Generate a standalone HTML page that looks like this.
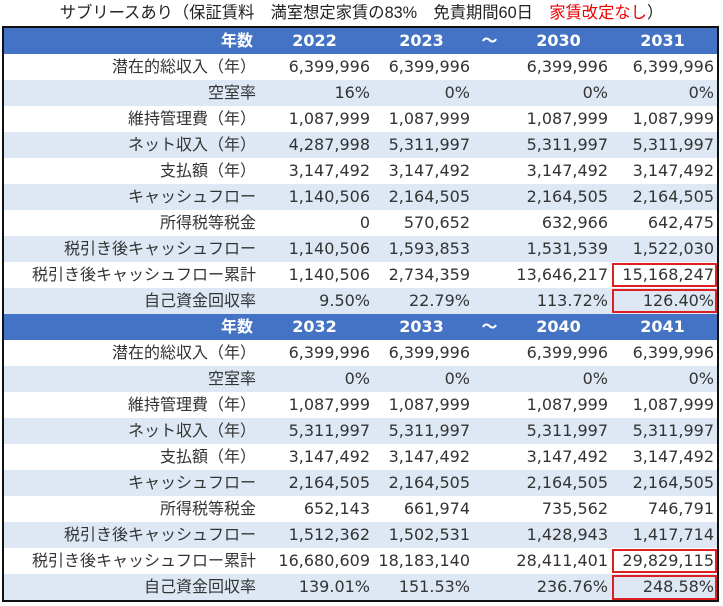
<!DOCTYPE html><html><head><meta charset="utf-8"><style>
body{margin:0;width:723px;height:606px;background:#fff;font-family:"DejaVu Sans","Noto Sans CJK JP",sans-serif;position:relative;overflow:hidden}
.t{position:absolute;top:2px;left:0;width:723px;text-align:center;font-size:16.3px;color:#222;line-height:22px;font-family:"Liberation Sans","Noto Sans CJK JP",sans-serif}
table{position:absolute;left:2px;top:26px;border-collapse:collapse;border:2px solid #111;width:715px;table-layout:fixed}
td{height:26px;padding:0 3px 0 0;font-size:16px;color:#333;text-align:right;white-space:nowrap;box-sizing:border-box;line-height:26px;overflow:visible}
tr.h td{background:#4472c4;color:#fff;font-weight:bold;text-align:center}
tr.h td:first-child{text-align:right;padding-right:6px}
tr.a td{background:#dde8f4}
td.r{outline:2px solid #e02020;outline-offset:-3px}
</style></head><body>
<div class="t">サブリースあり（保証賃料　満室想定家賃の83%　免責期間60日　<span style="color:#e00">家賃改定なし</span>）</div>
<table>
<colgroup><col style="width:256px"><col style="width:114px"><col style="width:100px"><col style="width:36px"><col style="width:102px"><col style="width:107px"></colgroup>
<tr class="h"><td>年数</td><td>2022</td><td>2023</td><td>～</td><td>2030</td><td>2031</td></tr>
<tr><td>潜在的総収入（年）</td><td>6,399,996</td><td>6,399,996</td><td></td><td>6,399,996</td><td>6,399,996</td></tr>
<tr class="a"><td>空室率</td><td>16%</td><td>0%</td><td></td><td>0%</td><td>0%</td></tr>
<tr><td>維持管理費（年）</td><td>1,087,999</td><td>1,087,999</td><td></td><td>1,087,999</td><td>1,087,999</td></tr>
<tr class="a"><td>ネット収入（年）</td><td>4,287,998</td><td>5,311,997</td><td></td><td>5,311,997</td><td>5,311,997</td></tr>
<tr><td>支払額（年）</td><td>3,147,492</td><td>3,147,492</td><td></td><td>3,147,492</td><td>3,147,492</td></tr>
<tr class="a"><td>キャッシュフロー</td><td>1,140,506</td><td>2,164,505</td><td></td><td>2,164,505</td><td>2,164,505</td></tr>
<tr><td>所得税等税金</td><td>0</td><td>570,652</td><td></td><td>632,966</td><td>642,475</td></tr>
<tr class="a"><td>税引き後キャッシュフロー</td><td>1,140,506</td><td>1,593,853</td><td></td><td>1,531,539</td><td>1,522,030</td></tr>
<tr><td>税引き後キャッシュフロー累計</td><td>1,140,506</td><td>2,734,359</td><td></td><td>13,646,217</td><td class="r">15,168,247</td></tr>
<tr class="a"><td>自己資金回収率</td><td>9.50%</td><td>22.79%</td><td></td><td>113.72%</td><td class="r">126.40%</td></tr>
<tr class="h"><td>年数</td><td>2032</td><td>2033</td><td>～</td><td>2040</td><td>2041</td></tr>
<tr><td>潜在的総収入（年）</td><td>6,399,996</td><td>6,399,996</td><td></td><td>6,399,996</td><td>6,399,996</td></tr>
<tr class="a"><td>空室率</td><td>0%</td><td>0%</td><td></td><td>0%</td><td>0%</td></tr>
<tr><td>維持管理費（年）</td><td>1,087,999</td><td>1,087,999</td><td></td><td>1,087,999</td><td>1,087,999</td></tr>
<tr class="a"><td>ネット収入（年）</td><td>5,311,997</td><td>5,311,997</td><td></td><td>5,311,997</td><td>5,311,997</td></tr>
<tr><td>支払額（年）</td><td>3,147,492</td><td>3,147,492</td><td></td><td>3,147,492</td><td>3,147,492</td></tr>
<tr class="a"><td>キャッシュフロー</td><td>2,164,505</td><td>2,164,505</td><td></td><td>2,164,505</td><td>2,164,505</td></tr>
<tr><td>所得税等税金</td><td>652,143</td><td>661,974</td><td></td><td>735,562</td><td>746,791</td></tr>
<tr class="a"><td>税引き後キャッシュフロー</td><td>1,512,362</td><td>1,502,531</td><td></td><td>1,428,943</td><td>1,417,714</td></tr>
<tr><td>税引き後キャッシュフロー累計</td><td>16,680,609</td><td>18,183,140</td><td></td><td>28,411,401</td><td class="r">29,829,115</td></tr>
<tr class="a"><td>自己資金回収率</td><td>139.01%</td><td>151.53%</td><td></td><td>236.76%</td><td class="r">248.58%</td></tr>
</table>
</body></html>
